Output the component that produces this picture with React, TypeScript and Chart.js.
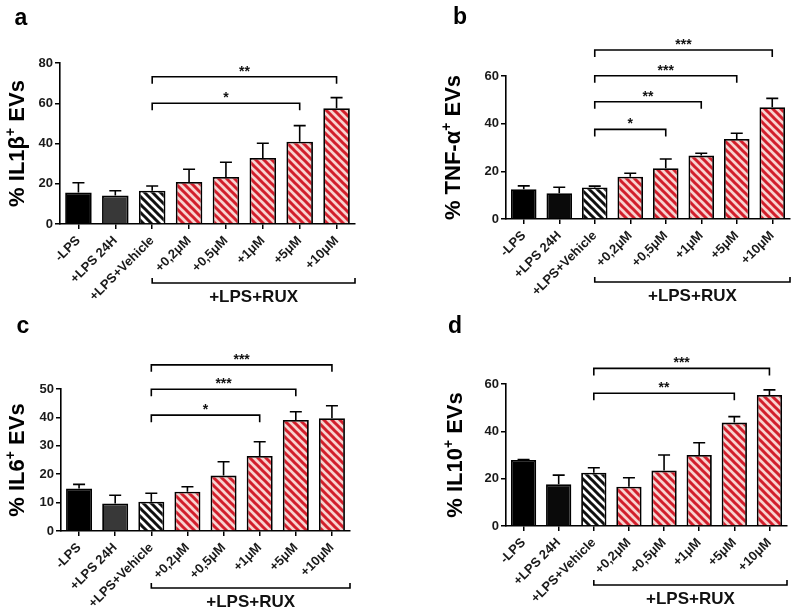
import React, { useEffect, useRef } from 'react';
import { Chart, registerables } from 'chart.js';

Chart.register(...registerables);

// ---------- data ----------
const CATEGORIES = ['-LPS', '+LPS 24H', '+LPS+Vehicle', '+0,2μM', '+0,5μM', '+1μM', '+5μM', '+10μM'];

const IL1B_MEAN = [15.7, 14.1, 16.5, 20.9, 23.4, 32.8, 40.9, 57.5];
const IL1B_ERR = [4.8, 2.4, 2.4, 6.3, 7.3, 7.3, 8.0, 5.3];
const TNF_MEAN = [12.5, 10.8, 13.2, 17.7, 21.3, 26.6, 33.6, 46.9];
const TNF_ERR = [1.4, 2.5, 0.6, 1.5, 3.9, 1.0, 2.4, 3.7];
const IL6_MEAN = [15.0, 9.7, 10.3, 13.8, 19.5, 26.4, 39.1, 39.7];
const IL6_ERR = [1.4, 2.9, 3.0, 1.8, 4.9, 5.0, 2.9, 4.4];
const IL10_MEAN = [27.9, 17.6, 22.5, 16.6, 23.4, 30.0, 43.7, 55.4];
const IL10_ERR = [0.2, 3.9, 2.1, 3.8, 6.6, 5.2, 2.5, 2.1];

const IL1B_SIG_TO = [6, 7];
const IL1B_SIG_VAL = [60.0, 73.2];
const IL1B_SIG_LABEL = ['*', '**'];
const TNF_SIG_TO = [4, 5, 6, 7];
const TNF_SIG_VAL = [37.6, 49.2, 60.1, 70.9];
const TNF_SIG_LABEL = ['*', '**', '***', '***'];
const IL6_SIG_TO = [5, 6, 7];
const IL6_SIG_VAL = [40.8, 49.9, 58.5];
const IL6_SIG_LABEL = ['*', '***', '***'];
const IL10_SIG_TO = [6, 7];
const IL10_SIG_VAL = [56.1, 66.6];
const IL10_SIG_LABEL = ['**', '***'];

const Y_MAX = [80, 60, 50, 60];
const Y_STEP = [20, 20, 10, 20];
const PANEL_LETTERS = ['a', 'b', 'c', 'd'];
const TITLE_MAIN = ['% IL1β', '% TNF-α', '% IL6', '% IL10'];
const TITLE_SUP = '+';
const TITLE_END = ' EVs';
const GROUP_LABEL = '+LPS+RUX';
const SIG_FROM = 2;

// ---------- styling ----------
const FONT = '"Liberation Sans", Arial, Helvetica, sans-serif';
const RED = '#d21f2c';
const PINK = '#f8d3d0';
const W = 800;
const H = 613;
const Y_AXIS_W = 40;
const X_AXIS_H = 80;

type Panel = {
  idx: number;
  mean: number[];
  err: number[];
  sigTo: number[];
  sigVal: number[];
  sigLabel: string[];
  gray: string;
  left: number;
  right: number;
  top: number;
  bottom: number;
  titleX: number;
  letterX: number;
  letterY: number;
  groupOffset: number;
};

const PANELS: Panel[] = [
  { idx: 0, mean: IL1B_MEAN, err: IL1B_ERR, sigTo: IL1B_SIG_TO, sigVal: IL1B_SIG_VAL, sigLabel: IL1B_SIG_LABEL, gray: '#383838',
    left: 60, right: 355, top: 63, bottom: 224, titleX: 18, letterX: 21, letterY: 19, groupOffset: 59 },
  { idx: 1, mean: TNF_MEAN, err: TNF_ERR, sigTo: TNF_SIG_TO, sigVal: TNF_SIG_VAL, sigLabel: TNF_SIG_LABEL, gray: '#0a0a0a',
    left: 506, right: 790, top: 76, bottom: 219, titleX: 454, letterX: 460, letterY: 18, groupOffset: 63 },
  { idx: 2, mean: IL6_MEAN, err: IL6_ERR, sigTo: IL6_SIG_TO, sigVal: IL6_SIG_VAL, sigLabel: IL6_SIG_LABEL, gray: '#383838',
    left: 61, right: 350, top: 389, bottom: 531, titleX: 18, letterX: 23, letterY: 327, groupOffset: 57 },
  { idx: 3, mean: IL10_MEAN, err: IL10_ERR, sigTo: IL10_SIG_TO, sigVal: IL10_SIG_VAL, sigLabel: IL10_SIG_LABEL, gray: '#0a0a0a',
    left: 506, right: 787, top: 384, bottom: 526, titleX: 456, letterX: 455, letterY: 327, groupOffset: 59 },
];

function makePattern(ctx: CanvasRenderingContext2D, bg: string, fg: string) {
  const c = document.createElement('canvas');
  c.width = 8;
  c.height = 8;
  const g = c.getContext('2d')!;
  g.fillStyle = bg;
  g.fillRect(0, 0, 8, 8);
  g.strokeStyle = fg;
  g.lineWidth = 3;
  g.beginPath();
  for (const k of [-8, 0, 8]) {
    g.moveTo(k - 2, -2);
    g.lineTo(k + 10, 10);
  }
  g.stroke();
  return ctx.createPattern(c, 'repeat')!;
}

function buildChart(canvas: HTMLCanvasElement, p: Panel) {
  const ctx = canvas.getContext('2d')!;
  const red = makePattern(ctx, PINK, RED);
  const bw = makePattern(ctx, '#ffffff', '#111111');
  const colors: any[] = ['#000000', p.gray, bw, red, red, red, red, red];

  const overlay = {
    id: 'overlay',
    afterDatasetsDraw(chart: any) {
      const c = chart.ctx as CanvasRenderingContext2D;
      const xs = chart.scales.x;
      const ys = chart.scales.y;
      const meta = chart.getDatasetMeta(0);
      c.save();
      c.strokeStyle = '#000';
      c.lineWidth = 1.6;
      meta.data.forEach((bar: any, i: number) => {
        const y0 = ys.getPixelForValue(p.mean[i]);
        const y1 = ys.getPixelForValue(p.mean[i] + p.err[i]);
        c.beginPath();
        c.moveTo(bar.x, y0);
        c.lineTo(bar.x, y1);
        c.moveTo(bar.x - 6, y1);
        c.lineTo(bar.x + 6, y1);
        c.stroke();
      });
      c.restore();

      // significance brackets
      c.save();
      c.strokeStyle = '#000';
      c.fillStyle = '#111';
      c.lineWidth = 1.6;
      c.font = `bold 14px ${FONT}`;
      c.textAlign = 'center';
      c.textBaseline = 'alphabetic';
      p.sigTo.forEach((to, i) => {
        const y = ys.getPixelForValue(p.sigVal[i]);
        const x1 = xs.getPixelForValue(SIG_FROM);
        const x2 = xs.getPixelForValue(to);
        c.beginPath();
        c.moveTo(x1, y + 7);
        c.lineTo(x1, y);
        c.lineTo(x2, y);
        c.lineTo(x2, y + 7);
        c.stroke();
        c.fillText(p.sigLabel[i], (x1 + x2) / 2, y - 1);
      });

      // group bracket
      const gy = chart.chartArea.bottom + p.groupOffset;
      const gx1 = xs.getPixelForValue(SIG_FROM);
      const gx2 = chart.chartArea.right;
      c.beginPath();
      c.moveTo(gx1, gy - 5);
      c.lineTo(gx1, gy);
      c.lineTo(gx2, gy);
      c.lineTo(gx2, gy - 5);
      c.stroke();
      c.font = `bold 17px ${FONT}`;
      c.textBaseline = 'middle';
      c.fillText(GROUP_LABEL, (gx1 + gx2) / 2, gy + 14);

      // panel letter
      c.font = `bold 23px ${FONT}`;
      c.fillStyle = '#000';
      c.fillText(PANEL_LETTERS[p.idx], p.letterX, p.letterY);

      // y title with superscript
      const main = TITLE_MAIN[p.idx];
      c.font = `bold 22px ${FONT}`;
      const w1 = c.measureText(main).width;
      const w3 = c.measureText(TITLE_END).width;
      c.font = `bold 14px ${FONT}`;
      const w2 = c.measureText(TITLE_SUP).width;
      const total = w1 + w2 + w3;
      const cy = (chart.chartArea.top + chart.chartArea.bottom) / 2;
      c.translate(p.titleX, cy);
      c.rotate(-Math.PI / 2);
      c.textAlign = 'left';
      c.textBaseline = 'middle';
      let x = -total / 2;
      c.font = `bold 22px ${FONT}`;
      c.fillText(main, x, 0);
      x += w1;
      c.font = `bold 14px ${FONT}`;
      c.fillText(TITLE_SUP, x, -7);
      x += w2;
      c.font = `bold 22px ${FONT}`;
      c.fillText(TITLE_END, x, 0);
      c.restore();
    },
  };

  return new Chart(canvas, {
    type: 'bar',
    data: {
      labels: CATEGORIES,
      datasets: [
        {
          data: p.mean,
          backgroundColor: colors,
          borderColor: '#000',
          borderWidth: 1.8,
          barPercentage: 0.72,
          categoryPercentage: 1,
        },
      ],
    },
    options: {
      responsive: false,
      animation: false,
      events: [],
      layout: {
        padding: {
          left: p.left - Y_AXIS_W,
          right: W - p.right,
          top: p.top,
          bottom: Math.max(0, H - p.bottom - X_AXIS_H),
        },
      },
      plugins: { legend: { display: false }, tooltip: { enabled: false }, title: { display: false } },
      scales: {
        x: {
          afterFit: (s: any) => {
            s.height = X_AXIS_H;
          },
          grid: { display: true, drawOnChartArea: false, drawTicks: true, tickLength: 5, offset: false, color: '#000', lineWidth: 1.5 },
          border: { display: true, color: '#000', width: 1.6 },
          ticks: {
            autoSkip: false,
            minRotation: 45,
            maxRotation: 45,
            padding: 4,
            color: '#1a1a1a',
            font: { family: FONT, size: 13, weight: 'bold' },
          },
        },
        y: {
          min: 0,
          max: Y_MAX[p.idx],
          afterFit: (s: any) => {
            s.width = Y_AXIS_W;
          },
          grid: { display: true, drawOnChartArea: false, drawTicks: true, tickLength: 5, color: '#000', lineWidth: 1.5 },
          border: { display: true, color: '#000', width: 1.6 },
          ticks: {
            stepSize: Y_STEP[p.idx],
            padding: 2,
            color: '#1a1a1a',
            font: { family: FONT, size: 13, weight: 'bold' },
          },
        },
      },
    },
    plugins: [overlay],
  } as any);
}

function PanelCanvas({ panel }: { panel: Panel }) {
  const ref = useRef<HTMLCanvasElement>(null);
  useEffect(() => {
    const chart = buildChart(ref.current!, panel);
    return () => chart.destroy();
  }, [panel]);
  return (
    <canvas
      ref={ref}
      width={W}
      height={H}
      style={{ position: 'absolute', left: 0, top: 0, width: W, height: H }}
    />
  );
}

export default function App() {
  return (
    <div style={{ position: 'absolute', left: 0, top: 0, width: W, height: H, background: '#ffffff', overflow: 'hidden' }}>
      {PANELS.map((p) => (
        <PanelCanvas key={p.idx} panel={p} />
      ))}
    </div>
  );
}
